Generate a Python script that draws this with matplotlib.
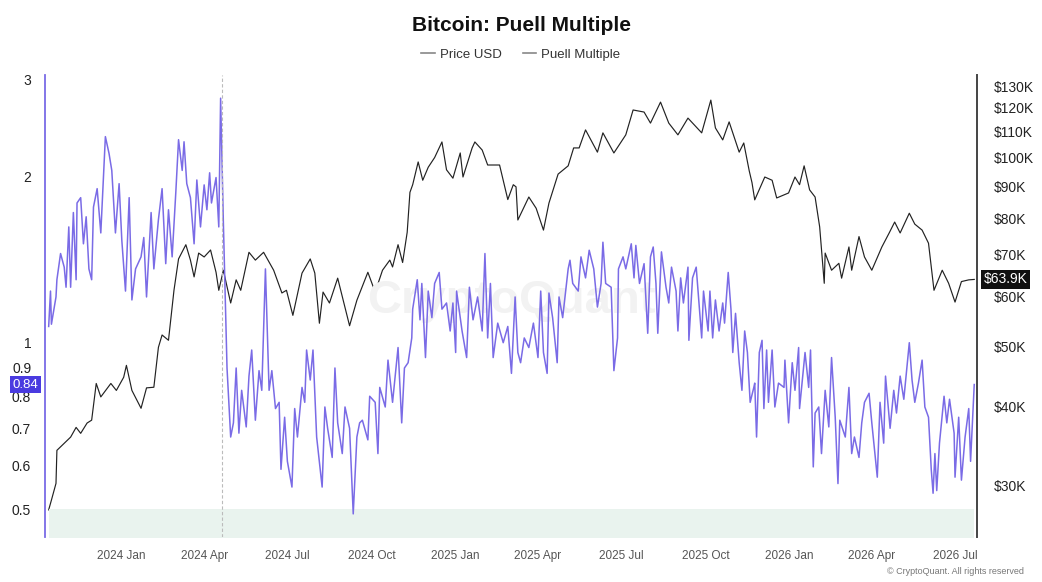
import numpy as np
import pandas as pd
import matplotlib
matplotlib.use("Agg")
import matplotlib.pyplot as plt
from matplotlib.lines import Line2D
from matplotlib.transforms import blended_transform_factory

plt.rcParams['font.family'] = ['Liberation Sans', 'DejaVu Sans']

# days counted from 2023-10-01
START = pd.Timestamp("2023-10-01")

puell_day = [13, 15, 16, 21, 22, 26, 30, 32, 35, 37, 40, 43, 44, 48, 51, 54, 57, 60, 62, 66,
             70, 75, 79, 82, 86, 90, 93, 97, 101, 104, 108, 114, 117, 120, 125, 128, 133, 137, 141, 144,
             148, 152, 155, 159, 161, 164, 168, 172, 175, 179, 183, 186, 189, 191, 196, 199, 201, 204, 208, 212,
             215, 218, 221, 224, 229, 232, 235, 239, 243, 246, 250, 254, 257, 261, 265, 267, 271, 274, 279, 282,
             285, 290, 293, 295, 299, 302, 306, 312, 315, 318, 323, 326, 329, 334, 337, 342, 346, 350, 353, 356,
             362, 364, 370, 373, 375, 381, 384, 389, 395, 399, 402, 406, 410, 411, 416, 419, 421, 425, 428, 432,
             435, 440, 443, 448, 452, 455, 458, 459, 465, 470, 473, 477, 482, 487, 490, 493, 496, 499, 504, 510,
             515, 519, 523, 526, 529, 533, 538, 543, 548, 551, 554, 558, 560, 564, 569, 571, 575, 581, 583, 586,
             592, 595, 600, 604, 609, 613, 617, 619, 622, 628, 631, 635, 636, 641, 644, 650, 653, 655, 659, 664,
             668, 671, 674, 677, 679, 683, 688, 691, 694, 699, 701, 704, 707, 712, 713, 717, 721, 724, 727, 729,
             734, 736, 739, 742, 746, 750, 752, 756, 759, 761, 764, 768, 771, 774, 777, 780, 784, 785, 787, 790,
             793, 795, 798, 800, 804, 807, 811, 817, 818, 822, 826, 829, 833, 834, 840, 844, 846, 849, 851, 855,
             858, 862, 866, 869, 873, 876, 878, 884, 888, 891, 894, 899, 902, 905, 910, 913, 919, 922, 926, 928,
             933, 937, 940, 944, 948, 951, 954, 957, 960, 964, 968, 971, 975, 978, 980, 982, 984, 987, 992, 995,
             998, 1003, 1004, 1008, 1011, 1015, 1019, 1021, 1025]
puell = [1.07, 1.24, 1.08, 1.21, 1.30, 1.45, 1.37, 1.26, 1.62, 1.26, 1.72, 1.30, 1.79, 1.83, 1.51, 1.69, 1.36, 1.30, 1.76, 1.90,
         1.58, 2.36, 2.20, 2.05, 1.58, 1.94, 1.53, 1.24, 1.83, 1.195, 1.36, 1.43, 1.55, 1.21, 1.72, 1.36, 1.67, 1.90, 1.39, 1.74,
         1.43, 1.87, 2.33, 2.05, 2.31, 1.94, 1.83, 1.51, 1.97, 1.62, 1.93, 1.74, 2.03, 1.79, 1.99, 1.62, 2.77, 1.65, 0.90, 0.675,
         0.716, 0.90, 0.686, 0.82, 0.704, 0.87, 0.97, 0.724, 0.89, 0.82, 1.36, 0.82, 0.89, 0.76, 0.78, 0.59, 0.733, 0.61, 0.548, 0.76,
         0.675, 0.83, 0.78, 0.97, 0.856, 0.97, 0.675, 0.548, 0.765, 0.70, 0.62, 0.90, 0.716, 0.63, 0.765, 0.70, 0.49, 0.675, 0.716, 0.724,
         0.667, 0.80, 0.78, 0.63, 0.83, 0.765, 0.93, 0.78, 0.98, 0.716, 0.90, 0.92, 1.02, 1.15, 1.30, 1.10, 1.28, 0.94, 1.24, 1.11,
         1.28, 1.34, 1.15, 1.18, 1.05, 1.18, 0.96, 1.24, 1.05, 0.94, 1.26, 1.10, 1.21, 1.05, 1.45, 1.02, 1.28, 0.94, 1.085, 1.00,
         1.07, 0.88, 1.21, 0.96, 0.92, 1.02, 0.98, 1.085, 0.94, 1.24, 0.96, 0.88, 1.23, 1.11, 0.92, 1.21, 1.11, 1.36, 1.41, 1.28,
         1.24, 1.43, 1.31, 1.47, 1.36, 1.16, 1.28, 1.52, 1.28, 1.26, 0.89, 1.02, 1.36, 1.43, 1.36, 1.51, 1.31, 1.50, 1.28, 1.39,
         1.04, 1.43, 1.49, 1.28, 1.04, 1.46, 1.26, 1.18, 1.37, 1.24, 1.05, 1.31, 1.18, 1.37, 1.01, 1.31, 1.37, 1.18, 1.02, 1.24,
         1.05, 1.24, 1.02, 1.195, 1.05, 1.18, 1.085, 1.34, 1.15, 0.96, 1.13, 0.92, 0.82, 1.05, 0.96, 0.78, 0.83, 0.845, 0.675, 0.96,
         1.01, 0.76, 0.97, 0.78, 0.97, 0.765, 0.845, 0.83, 0.93, 0.716, 0.92, 0.82, 0.98, 0.76, 0.96, 0.83, 0.97, 0.596, 0.746, 0.765,
         0.63, 0.82, 0.704, 0.94, 0.733, 0.556, 0.724, 0.675, 0.83, 0.63, 0.675, 0.62, 0.716, 0.78, 0.81, 0.716, 0.571, 0.78, 0.658, 0.87,
         0.70, 0.82, 0.746, 0.87, 0.79, 0.89, 1.00, 0.856, 0.78, 0.845, 0.93, 0.765, 0.733, 0.59, 0.534, 0.63, 0.54, 0.658, 0.80, 0.716,
         0.79, 0.686, 0.571, 0.733, 0.564, 0.675, 0.76, 0.61, 0.84]

price_day = [13, 16, 21, 22, 30, 37, 43, 48, 55, 60, 65, 70, 81, 87, 95, 98, 104, 114, 120, 128,
             133, 137, 144, 150, 155, 163, 168, 172, 177, 183, 190, 196, 199, 204, 212, 218, 223, 232, 239, 248,
             259, 268, 273, 280, 290, 299, 304, 309, 313, 320, 329, 335, 342, 350, 362, 370, 378, 386, 389, 395,
             400, 405, 408, 411, 417, 422, 428, 435, 443, 448, 455, 463, 466, 476, 479, 487, 493, 506, 515, 521,
             524, 526, 538, 546, 554, 560, 570, 581, 587, 593, 600, 613, 619, 631, 644, 652, 664, 671, 682, 691,
             701, 712, 727, 737, 742, 750, 757, 768, 773, 779, 782, 785, 796, 804, 809, 822, 829, 834, 839, 845,
             851, 856, 861, 862, 869, 877, 880, 888, 891, 899, 905, 913, 924, 932, 938, 944, 954, 960, 968, 975,
             981, 990, 997, 1004, 1011, 1019, 1025]
price_k = [27.4, 28.4, 30.2, 34.1, 35.0, 35.8, 37.1, 36.3, 37.7, 38.1, 43.6, 41.5, 43.6, 42.5, 44.6, 46.6, 42.5, 39.8, 42.9, 43.0,
           49.8, 52.1, 51.1, 61.4, 68.9, 72.6, 68.6, 64.5, 70.4, 69.4, 71.2, 65.6, 61.4, 66.1, 58.6, 63.8, 61.4, 70.6, 68.6, 70.6,
           66.1, 60.8, 61.4, 56.0, 65.4, 68.9, 65.4, 54.4, 61.0, 58.6, 64.2, 59.2, 53.9, 59.2, 65.6, 61.0, 66.1, 68.6, 66.9, 72.6,
           68.0, 76.0, 88.0, 90.5, 98.4, 92.0, 96.5, 100.0, 105.9, 95.6, 92.7, 101.7, 93.1, 103.6, 105.9, 102.8, 97.3, 97.3, 85.7, 90.5,
           89.8, 79.5, 86.5, 83.0, 76.6, 84.6, 94.1, 97.0, 103.6, 103.6, 110.7, 102.0, 109.5, 101.7, 108.7, 119.1, 118.2, 113.5, 122.6, 113.5,
           108.7, 115.6, 109.5, 123.5, 111.5, 106.7, 114.0, 102.0, 105.5, 95.2, 91.2, 85.6, 93.1, 92.0, 86.2, 87.8, 93.1, 90.5, 97.0, 88.8,
           86.5, 77.5, 63.0, 70.4, 66.1, 67.8, 64.2, 72.0, 66.1, 74.8, 69.4, 66.1, 72.0, 75.8, 78.9, 75.8, 81.5, 78.3, 76.6, 73.0,
           61.4, 66.1, 63.0, 58.8, 63.4, 63.8, 63.9]

puell_ticks = [0.5, 0.6, 0.7, 0.8, 0.9, 1, 2, 3]
price_ticks_k = [30, 40, 50, 60, 70, 80, 90, 100, 110, 120, 130]
halving = "2024-04-20"

PURPLE = "#7a6be6"

puell_dates = START + pd.to_timedelta(puell_day, unit="D")
price_dates = START + pd.to_timedelta(price_day, unit="D")
price_usd = np.array(price_k) * 1000

fig = plt.figure(figsize=(10.42, 5.82), dpi=100)
ax = fig.add_axes([0.0432, 0.0773, 0.8944, 0.7937])
ax2 = ax.twinx()
ax.set_zorder(ax2.get_zorder() + 1)
ax.patch.set_visible(False)

# price (right axis)
ax2.plot(price_dates, price_usd, color="#222222", lw=0.85)
ax2.set_yscale("log")
ax2.set_ylim(24800, 135400)
ax2.set_yticks([v * 1000 for v in price_ticks_k])
ax2.set_yticklabels([f"${v}K" for v in price_ticks_k])
ax2.yaxis.set_minor_locator(matplotlib.ticker.NullLocator())
ax2.tick_params(axis="y", length=0, pad=12, labelsize=10, labelcolor="#222222")

# puell (left axis)
ax.plot(puell_dates, puell, color=PURPLE, lw=1.1)
ax.fill_between([puell_dates[0], puell_dates[-1]], 0.4, 0.5, color="#e9f3ee", lw=0, zorder=0)
ax.axvline(pd.Timestamp(halving), color="#bbbbbb", lw=0.8, ls=(0, (3, 2)))
ax.set_yscale("log")
ax.set_ylim(0.445, 3.05)
ax.set_yticks(puell_ticks)
ax.set_yticklabels([f"{v:g}" for v in puell_ticks])
ax.yaxis.set_minor_locator(matplotlib.ticker.NullLocator())
ax.tick_params(axis="y", length=0, pad=10, labelsize=10, labelcolor="#222222")

ax.set_xlim(START + pd.Timedelta(days=9), START + pd.Timedelta(days=1028))
xt = pd.date_range("2024-01-01", "2026-07-01", freq="QS")
ax.set_xticks(xt)
ax.set_xticklabels([d.strftime("%Y %b") for d in xt])
ax.tick_params(axis="x", length=0, pad=9, labelsize=8.5, labelcolor="#555555")

for a in (ax, ax2):
    for s in ("top", "bottom"):
        a.spines[s].set_visible(False)
ax2.spines["left"].set_visible(False)
ax.spines["right"].set_visible(False)
ax.spines["left"].set_color(PURPLE)
ax.spines["left"].set_linewidth(1.3)
ax2.spines["right"].set_color("#444444")
ax2.spines["right"].set_linewidth(1.4)

# watermark
ax.text(0.5, 0.51, "CryptoQuant", transform=ax.transAxes, ha="center", va="center",
        fontsize=34, fontweight="bold", color="#f2f2f2", zorder=0)

# last value badges
tl = blended_transform_factory(ax.transAxes, ax.transData)
ax.text(-0.007, puell[-1], f"{puell[-1]:.2f}", transform=tl, ha="right", va="center",
        fontsize=9.5, color="white",
        bbox=dict(boxstyle="square,pad=0.2", fc="#4a3be0", ec="none"))
tr = blended_transform_factory(ax2.transAxes, ax2.transData)
ax2.text(1.007, price_usd[-1], f"${price_k[-1]}K", transform=tr, ha="left", va="center",
         fontsize=10, color="white",
         bbox=dict(boxstyle="square,pad=0.2", fc="#111111", ec="none"))

fig.text(0.5, 0.957, "Bitcoin: Puell Multiple", ha="center", va="center",
         fontsize=15, fontweight="bold", color="#111111")
handles = [Line2D([], [], color="#888888", lw=1.2), Line2D([], [], color="#888888", lw=1.2)]
fig.legend(handles, ["Price USD", "Puell Multiple"], loc="center", bbox_to_anchor=(0.5, 0.906),
           ncol=2, frameon=False, fontsize=9.5, handlelength=1.0, handletextpad=0.4,
           columnspacing=1.6, labelcolor="#333333")
fig.text(0.983, 0.018, "© CryptoQuant. All rights reserved", ha="right", va="center",
         fontsize=6.5, color="#777777")

fig.savefig("out.png", dpi=100)
